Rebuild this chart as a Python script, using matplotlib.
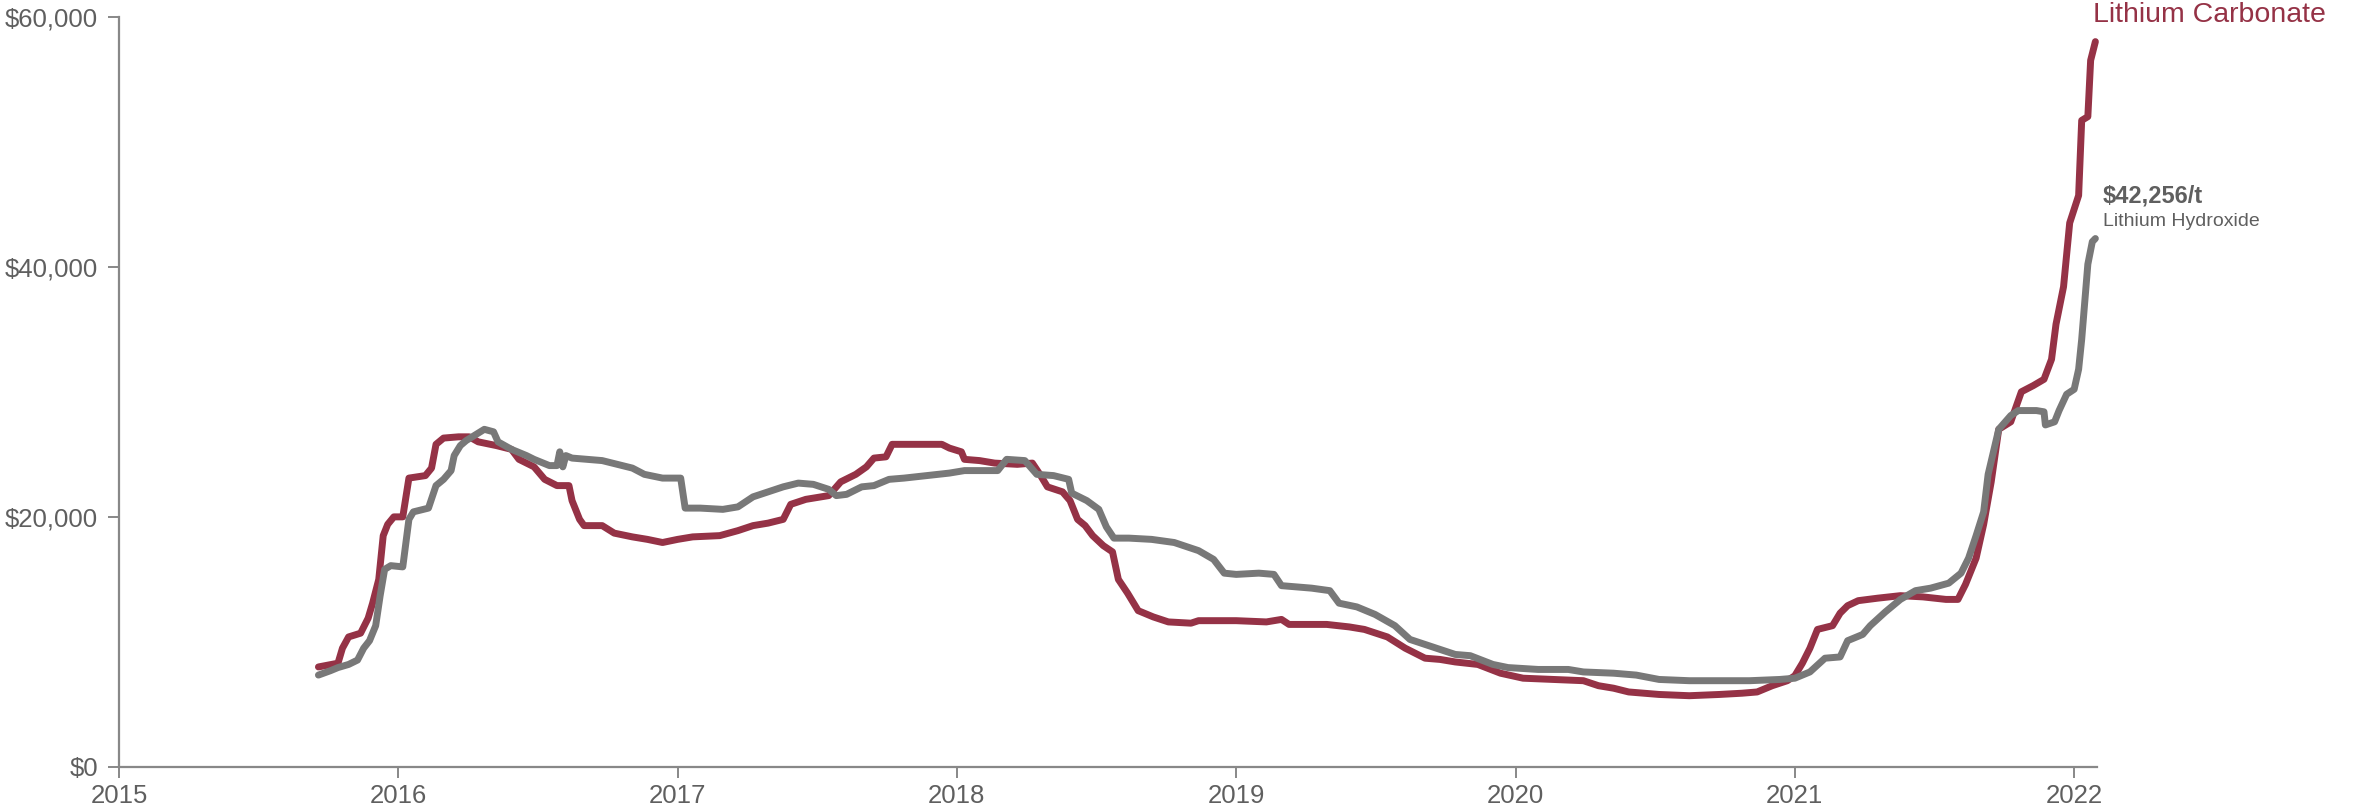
import matplotlib
matplotlib.use("Agg")
import matplotlib.pyplot as plt
from matplotlib.ticker import FuncFormatter

plt.rcParams['font.family'] = ['Liberation Sans', 'DejaVu Sans']

# ---- data (decimal year, US$/t) ----
carb_t = [2015.714, 2015.784, 2015.800, 2015.822, 2015.865, 2015.892, 2015.908, 2015.930,
          2015.946, 2015.962, 2015.984, 2016.016, 2016.038, 2016.097, 2016.119, 2016.135,
          2016.162, 2016.216, 2016.254, 2016.286, 2016.351, 2016.405, 2016.432, 2016.486,
          2016.524, 2016.568, 2016.611, 2016.622, 2016.649, 2016.665, 2016.730, 2016.773,
          2016.838, 2016.892, 2016.946, 2017.000, 2017.054, 2017.151, 2017.216, 2017.270,
          2017.324, 2017.378, 2017.405, 2017.459, 2017.541, 2017.584, 2017.638, 2017.676,
          2017.703, 2017.746, 2017.768, 2017.838, 2017.946, 2017.973, 2018.016, 2018.027,
          2018.081, 2018.135, 2018.216, 2018.270, 2018.297, 2018.324, 2018.378, 2018.405,
          2018.432, 2018.459, 2018.486, 2018.524, 2018.557, 2018.578, 2018.611, 2018.649,
          2018.703, 2018.757, 2018.838, 2018.865, 2019.000, 2019.108, 2019.162, 2019.189,
          2019.324, 2019.405, 2019.459, 2019.541, 2019.605, 2019.676, 2019.730, 2019.784,
          2019.865, 2019.946, 2020.027, 2020.135, 2020.243, 2020.297, 2020.351, 2020.405,
          2020.514, 2020.622, 2020.730, 2020.811, 2020.865, 2020.919, 2020.973, 2021.000,
          2021.027, 2021.054, 2021.081, 2021.135, 2021.162, 2021.189, 2021.227, 2021.297,
          2021.378, 2021.459, 2021.541, 2021.584, 2021.611, 2021.649, 2021.676, 2021.703,
          2021.730, 2021.773, 2021.811, 2021.854, 2021.892, 2021.919, 2021.935, 2021.962,
          2021.984, 2022.016, 2022.027, 2022.049, 2022.059, 2022.076]
carb_v = [8000, 8300, 9500, 10400, 10700, 11900, 13100, 15000,
          18500, 19400, 20000, 20000, 23100, 23300, 23900, 25800,
          26300, 26400, 26400, 26000, 25700, 25400, 24600, 24000,
          23000, 22500, 22500, 21300, 19800, 19300, 19300, 18700,
          18400, 18200, 17950, 18200, 18400, 18500, 18900, 19300,
          19500, 19800, 21000, 21400, 21700, 22800, 23400, 24000,
          24700, 24800, 25800, 25800, 25800, 25500, 25200, 24600,
          24500, 24300, 24200, 24300, 23400, 22400, 22000, 21300,
          19800, 19300, 18500, 17700, 17200, 15000, 13900, 12500,
          12000, 11600, 11500, 11700, 11700, 11600, 11800, 11400,
          11400, 11200, 11000, 10400, 9500, 8700, 8600, 8400,
          8200, 7500, 7100, 7000, 6900, 6500, 6300, 6000,
          5800, 5700, 5800, 5900, 6000, 6500, 6900, 7300,
          8300, 9500, 11000, 11300, 12300, 12900, 13300, 13500,
          13700, 13600, 13400, 13400, 14600, 16700, 19400, 22800,
          27000, 27600, 30000, 30500, 31000, 32600, 35400, 38400,
          43500, 45700, 51700, 52000, 56500, 58000]

hydr_t = [2015.714, 2015.757, 2015.784, 2015.822, 2015.854, 2015.876, 2015.897, 2015.919,
          2015.935, 2015.951, 2015.973, 2016.016, 2016.038, 2016.054, 2016.108, 2016.135,
          2016.162, 2016.189, 2016.200, 2016.222, 2016.243, 2016.286, 2016.308, 2016.341,
          2016.357, 2016.405, 2016.459, 2016.486, 2016.541, 2016.568, 2016.578, 2016.589,
          2016.600, 2016.622, 2016.676, 2016.730, 2016.784, 2016.838, 2016.881, 2016.946,
          2017.011, 2017.027, 2017.081, 2017.162, 2017.216, 2017.270, 2017.324, 2017.378,
          2017.432, 2017.486, 2017.541, 2017.568, 2017.605, 2017.659, 2017.703, 2017.757,
          2017.811, 2017.892, 2017.973, 2018.027, 2018.081, 2018.146, 2018.178, 2018.243,
          2018.286, 2018.346, 2018.400, 2018.411, 2018.465, 2018.508, 2018.535, 2018.562,
          2018.616, 2018.697, 2018.778, 2018.865, 2018.919, 2018.957, 2019.000, 2019.081,
          2019.135, 2019.162, 2019.270, 2019.335, 2019.368, 2019.432, 2019.497, 2019.568,
          2019.622, 2019.676, 2019.730, 2019.784, 2019.838, 2019.919, 2019.973, 2020.081,
          2020.189, 2020.243, 2020.351, 2020.432, 2020.514, 2020.622, 2020.730, 2020.838,
          2020.946, 2021.000, 2021.054, 2021.108, 2021.162, 2021.189, 2021.243, 2021.270,
          2021.324, 2021.378, 2021.432, 2021.486, 2021.551, 2021.595, 2021.622, 2021.649,
          2021.676, 2021.692, 2021.730, 2021.773, 2021.800, 2021.865, 2021.892, 2021.897,
          2021.930, 2021.946, 2021.973, 2022.000, 2022.016, 2022.027, 2022.038, 2022.049,
          2022.065, 2022.076]
hydr_v = [7350, 7700, 7950, 8200, 8550, 9500, 10100, 11300,
          13700, 15800, 16100, 16000, 19800, 20400, 20700, 22500,
          23000, 23700, 24900, 25700, 26100, 26700, 27000, 26800,
          26000, 25400, 24900, 24600, 24100, 24100, 25200, 24000,
          24900, 24700, 24600, 24500, 24200, 23900, 23400, 23100,
          23100, 20700, 20700, 20600, 20800, 21600, 22000, 22400,
          22700, 22600, 22200, 21700, 21800, 22400, 22500, 23000,
          23100, 23300, 23500, 23700, 23700, 23700, 24600, 24500,
          23400, 23300, 23000, 21900, 21300, 20600, 19200, 18300,
          18300, 18200, 17950, 17300, 16600, 15500, 15400, 15500,
          15400, 14500, 14300, 14100, 13100, 12800, 12200, 11300,
          10200, 9800, 9400, 9000, 8900, 8200, 7950, 7800,
          7800, 7600, 7500, 7350, 7000, 6900, 6900, 6900,
          7000, 7100, 7600, 8700, 8800, 10100, 10600, 11300,
          12400, 13400, 14100, 14300, 14700, 15500, 16700, 18500,
          20400, 23400, 27000, 28100, 28500, 28500, 28400, 27350,
          27600, 28500, 29800, 30200, 31800, 34200, 37200, 40200,
          42000, 42256]

year_ticks = [2015, 2016, 2017, 2018, 2019, 2020, 2021, 2022]
price_ticks = [0, 20000, 40000, 60000]

RED = '#953246'
GRAY = '#787878'
TXT = '#5f5f5f'
AX = '#888888'

fig = plt.figure(figsize=(23.61, 8.11), dpi=100)
ax = fig.add_axes([119 / 2361, 1 - 767 / 811, (2096.5 - 119) / 2361, (767 - 16.6) / 811])

ax.plot(carb_t, carb_v, color=RED, lw=5.0, solid_capstyle='round', solid_joinstyle='round',
        clip_on=False, zorder=3)
ax.plot(hydr_t, hydr_v, color=GRAY, lw=5.0, solid_capstyle='round', solid_joinstyle='round',
        clip_on=False, zorder=4)

ax.set_xlim(2015, 2022.08)
ax.set_ylim(0, 60000)
ax.set_xticks(year_ticks)
ax.set_xticklabels([str(y) for y in year_ticks])
ax.set_yticks(price_ticks)
ax.yaxis.set_major_formatter(FuncFormatter(lambda v, p: '${:,.0f}'.format(v)))

for s in ['top', 'right']:
    ax.spines[s].set_visible(False)
for s in ['left', 'bottom']:
    ax.spines[s].set_color(AX)
    ax.spines[s].set_linewidth(1.6)
ax.tick_params(axis='both', colors=AX, width=1.4, length=8, labelcolor=TXT, labelsize=18.5)
ax.tick_params(axis='x', pad=4)
ax.tick_params(axis='y', pad=7)

fig.text(2093 / 2361, 1 - 22 / 811, 'Lithium Carbonate', color=RED, fontsize=20.5,
         ha='left', va='baseline')
fig.text(2103 / 2361, 1 - 202 / 811, '$42,256/t', color=TXT, fontsize=17,
         fontweight='bold', ha='left', va='baseline')
fig.text(2103 / 2361, 1 - 226 / 811, 'Lithium Hydroxide', color=TXT, fontsize=14,
         ha='left', va='baseline')

fig.savefig('out.png', dpi=100, facecolor='white')
